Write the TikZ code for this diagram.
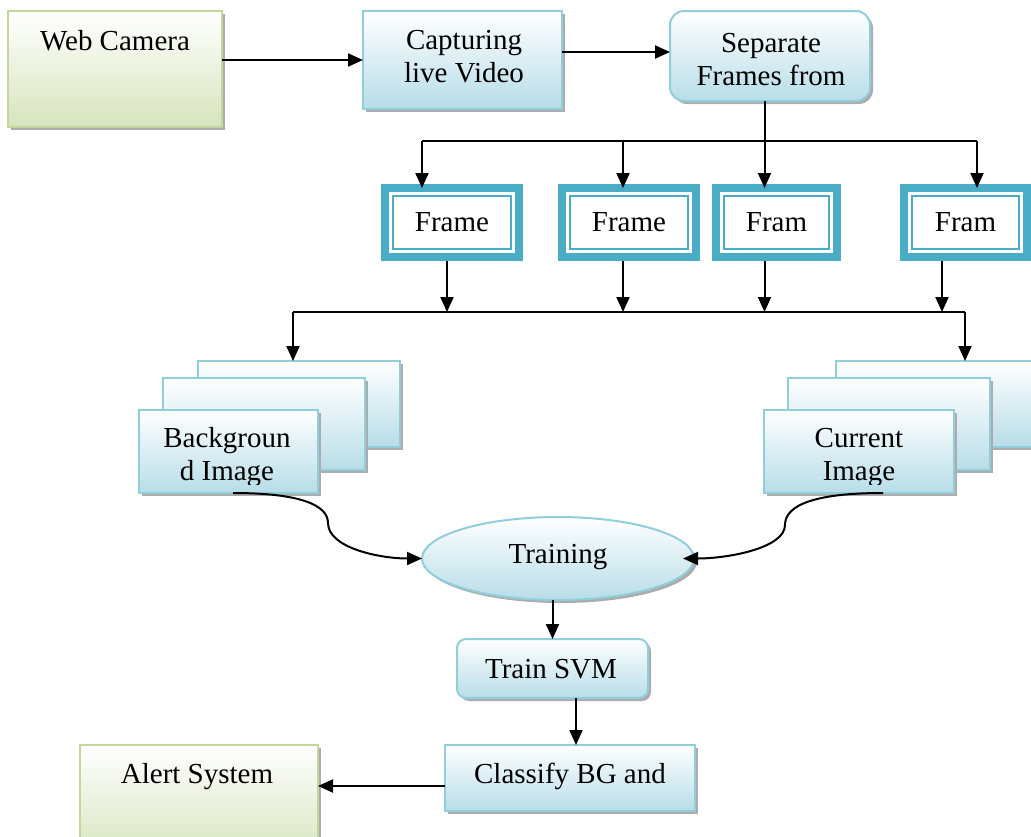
\documentclass[tikz,border=0pt]{standalone}
\usepackage{fontspec}
\setmainfont{Liberation Serif}
\usetikzlibrary{arrows.meta,shadows,calc,shapes.geometric}
\definecolor{gbord}{HTML}{C3D69B}
\definecolor{gbot}{HTML}{D7E4BD}
\definecolor{bbord}{HTML}{92CDDC}
\definecolor{bbot}{HTML}{B7DDE8}
\definecolor{teal1}{HTML}{4BACC6}
\newcommand{\mainf}{\fontsize{29}{33}\selectfont}
\newcommand{\mytl}[1]{\begin{tabular}[t]{@{}c@{}}#1\end{tabular}}
\begin{document}
\begin{tikzpicture}[x=1pt,y=-1pt,
 every node/.style={outer sep=0pt},
 shad/.style={drop shadow={shadow xshift=3pt,shadow yshift=-3pt,fill=gray!65,opacity=1}},
 gbox/.style={rectangle, draw=gbord, line width=2pt, top color=white, bottom color=gbot, shad},
 bbox/.style={rectangle, draw=bbord, line width=2pt, top color=white, bottom color=bbot, shad},
 rbox/.style={bbox, rounded corners=14pt},
 fbox/.style={rectangle, draw=teal1, line width=8pt, fill=white, font=\mainf},
 finner/.style={draw=teal1, line width=2pt},
 txt/.style={inner sep=0pt, anchor=base, font=\mainf},
 ln/.style={line width=2pt},
 arr/.style={ln, -{Triangle[length=15pt,width=13pt]}},
]
\useasboundingbox (0,0) rectangle (1031,836);
\clip (0,0) rectangle (1031,836);

% top row
\node[gbox, minimum width=214pt, minimum height=116pt] (wc) at (115,69) {};
\node[txt] (wct) at (115,50) {Web Camera};
\node[bbox, minimum width=199pt, minimum height=98pt] (cap) at (462.5,60) {};
\node[txt] (capt) at (464,49) {\mytl{Capturing\\live Video}};
\node[rbox, minimum width=200pt, minimum height=90pt] (sep) at (770,56) {};
\node[txt] (sept) at (771,52) {\mytl{Separate\\Frames from}};

% frames
\node[fbox, minimum width=133.5pt, minimum height=69pt] (f1) at (452,222.5) {Frame};
\node[fbox, minimum width=134pt, minimum height=69pt] (f2) at (629,222.5) {Frame};
\node[fbox, minimum width=121pt, minimum height=69pt] (f3) at (776.5,222.5) {Fram};
\node[fbox, minimum width=123pt, minimum height=69pt] (f4) at (965.5,222.5) {Fram};
\foreach \f in {f1,f2,f3,f4}{
  \draw[finner] ([shift={(8,-8)}]\f.south west) rectangle ([shift={(-8,8)}]\f.north east);
}

% stacks
\node[bbox, minimum width=202pt, minimum height=86pt] (bg1) at (299,404) {};
\node[bbox, minimum width=202.5pt, minimum height=92pt] (bg2) at (263.75,424) {};
\node[bbox, minimum width=179pt, minimum height=83pt] (bg3) at (228.5,451.5) {};
\begin{scope}
\clip (bg3.north west) rectangle ([yshift=9pt]bg3.south east);
\node[txt] (bgt) at (227,447) {\mytl{Backgroun\\d Image}};
\end{scope}
\node[bbox, minimum width=204.5pt, minimum height=86pt] (cu1) at (937.75,404) {};
\node[bbox, minimum width=202pt, minimum height=92pt] (cu2) at (889,424) {};
\node[bbox, minimum width=190pt, minimum height=83pt] (cu3) at (859,451.5) {};
\begin{scope}
\clip (cu3.north west) rectangle ([yshift=9pt]cu3.south east);
\node[txt] (cut) at (859,447) {\mytl{Current\\Image}};
\end{scope}

% lower part
\node[bbox, ellipse, minimum width=272pt, minimum height=83pt] (tr) at (558,558.5) {};
\node[txt] (trt) at (558,563) {Training};
\node[rbox, rounded corners=9pt, minimum width=191pt, minimum height=59pt] (ts) at (552.5,668.5) {};
\node[txt] (tst) at (551,678) {Train SVM};
\node[bbox, minimum width=250pt, minimum height=66pt] (cl) at (570,778) {};
\node[txt] (clt) at (570,783) {Classify BG and};
\node[gbox, minimum width=238pt, minimum height=115pt] (al) at (199,802.5) {};
\node[txt] (alt) at (197,783) {Alert System};

% connectors
\draw[arr] ([yshift=9pt]wc.east) -- (cap.west);
\draw[arr] ([yshift=8pt]cap.east) -- ([yshift=4pt]sep.west);

\coordinate (t1) at (422,141);
\coordinate (t2) at (623,141);
\coordinate (t4) at (977,141);
\draw[ln] (t1) -- (t4);
\draw[arr] ([xshift=-5.5pt]sep.south) -- ([xshift=-12pt]f3.north);
\draw[arr] (t1) -- (t1 |- f1.north);
\draw[arr] (t2) -- (t2 |- f2.north);
\draw[arr] (t4) -- (t4 |- f4.north);

\coordinate (u1) at (447,312);
\coordinate (u2) at (623,312);
\coordinate (u3) at (764.5,312);
\coordinate (u4) at (942,312);
\coordinate (v1) at (293,312);
\coordinate (v2) at (965,312);
\draw[arr, shorten <=4pt] (u1 |- f1.south) -- (u1);
\draw[arr, shorten <=4pt] (u2 |- f2.south) -- (u2);
\draw[arr, shorten <=4pt] (u3 |- f3.south) -- (u3);
\draw[arr, shorten <=4pt] (u4 |- f4.south) -- (u4);
\draw[ln] (v1) -- (v2);
\draw[arr] (v1) -- (v1 |- bg1.north);
\draw[arr] (v2) -- (v2 |- cu1.north);

\coordinate (kL) at (328,523);
\coordinate (kR) at (785,525);
\draw[arr] ([xshift=4.5pt]bg3.south) .. controls +(67,0) and +(0,-18) .. (kL) .. controls +(0,25) and +(-42,0) .. (tr.west);
\draw[arr] ([xshift=24pt]cu3.south) .. controls +(-68,0) and +(0,-20) .. (kR) .. controls +(0,23) and +(45,0) .. ([xshift=-11pt]tr.east);

\draw[arr] (tr.south -| ts.north) -- (ts.north);
\draw[arr] ([xshift=23.5pt]ts.south) -- ([xshift=6pt]cl.north);
\draw[arr] ([yshift=-8pt]cl.west) -- ([yshift=16.5pt]al.east);
\end{tikzpicture}
\end{document}
